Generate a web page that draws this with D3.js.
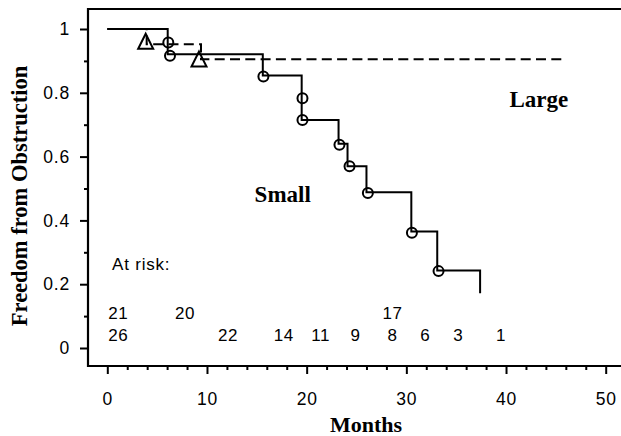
<!DOCTYPE html>
<html>
<head>
<meta charset="utf-8">
<script src="https://cdn.jsdelivr.net/npm/d3@7"></script>
<style>
    body { margin: 0; background: #fff; }
    #km-chart { width: 621px; height: 436px; }
</style>
</head>
<body>
<div id="km-chart"></div>
<script>
// axis ticks
const xTickValues = [0, 10, 20, 30, 40, 50];
const yTickValues = [0, 0.2, 0.4, 0.6, 0.8, 1];

// small group: step curve and event marks
const smallMonths = [0, 6.06, 15.6, 19.5, 23.2, 24.1, 26.0, 30.5, 33.1, 37.4];
const smallSurvival = [1, 0.921, 0.854, 0.715, 0.640, 0.570, 0.488, 0.365, 0.243, 0.172];
const smallMarkMonths = [6.12, 6.29, 15.66, 19.58, 19.58, 23.29, 24.3, 26.14, 30.56, 33.23];
const smallMarkValues = [0.958, 0.916, 0.851, 0.783, 0.715, 0.637, 0.570, 0.486, 0.361, 0.241];

// large group
const largeMonths = [0, 3.95, 9.4, 45.7];
const largeSurvival = [1, 0.952, 0.905, 0.905];
const largeMarkMonths = [3.85, 9.2];
const largeMarkValues = [0.957, 0.901];

// numbers at risk
const riskLargeMonths = [1.1, 7.8, 28.6];
const riskLargeCounts = [21, 20, 17];
const riskSmallMonths = [1.1, 12.1, 17.7, 21.4, 24.9, 28.6, 31.9, 35.2, 39.5];
const riskSmallCounts = [26, 22, 14, 11, 9, 8, 6, 3, 1];

function createKmChart() {
    const width = 621;
    const height = 436;
    const frame = { left: 88, top: 9, bottom: 366 };

    const svg = d3.select("#km-chart")
        .append("svg")
        .attr("width", width)
        .attr("height", height);

    const x = d3.scaleLinear().domain([0, 50]).range([107.3, 605.7]);
    const y = d3.scaleLinear().domain([0, 1]).range([348, 29]);

    const sans = "'Liberation Sans', Arial, sans-serif";
    const serif = "'Liberation Serif', 'Times New Roman', serif";

    // frame (open on the right)
    svg.append("path")
        .attr("d", `M${width},${frame.top}H${frame.left}V${frame.bottom}H${width}`)
        .attr("fill", "none")
        .attr("stroke", "#000")
        .attr("stroke-width", 2.2);

    // x axis, major + minor ticks
    svg.append("g")
        .attr("transform", `translate(0,${frame.bottom})`)
        .call(d3.axisBottom(x).tickValues(xTickValues).tickSize(8).tickPadding(19).tickFormat(d3.format("d")));
    svg.append("g")
        .attr("transform", `translate(0,${frame.bottom})`)
        .call(d3.axisBottom(x).tickValues(d3.range(0, 51, 2).filter(d => d % 10)).tickSize(4).tickFormat(""));

    // y axis
    svg.append("g")
        .attr("transform", `translate(${frame.left},0)`)
        .call(d3.axisLeft(y).tickValues(yTickValues).tickSize(8).tickPadding(10).tickFormat(d => d === 0 || d === 1 ? d : d3.format(".1f")(d)));
    svg.append("g")
        .attr("transform", `translate(${frame.left},0)`)
        .call(d3.axisLeft(y).tickValues([0.1, 0.3, 0.5, 0.7, 0.9]).tickSize(4).tickFormat(""));

    svg.selectAll(".domain").remove();
    svg.selectAll(".tick line").attr("stroke", "#000").attr("stroke-width", 2);
    svg.selectAll(".tick text")
        .attr("fill", "#000")
        .style("font-family", sans)
        .style("font-size", "17.5px")
        .style("letter-spacing", "0.8px");

    // axis titles
    svg.append("text")
        .attr("x", 366)
        .attr("y", 432)
        .attr("text-anchor", "middle")
        .style("font-family", serif)
        .style("font-weight", "bold")
        .style("font-size", "22px")
        .text("Months");

    svg.append("text")
        .attr("transform", "translate(27,196) rotate(-90)")
        .attr("text-anchor", "middle")
        .style("font-family", serif)
        .style("font-weight", "bold")
        .style("font-size", "22.5px")
        .text("Freedom from Obstruction");

    const step = d3.line()
        .x(d => x(d[0]))
        .y(d => y(d[1]))
        .curve(d3.curveStepAfter);

    // large group: dashed
    svg.append("path")
        .datum(largeMonths.map((m, i) => [m, largeSurvival[i]]))
        .attr("fill", "none")
        .attr("stroke", "#000")
        .attr("stroke-width", 2)
        .attr("stroke-dasharray", "10,5.3")
        .attr("d", step);

    // small group: solid
    svg.append("path")
        .datum(smallMonths.map((m, i) => [m, smallSurvival[i]]))
        .attr("fill", "none")
        .attr("stroke", "#000")
        .attr("stroke-width", 2)
        .attr("d", step);

    // circles for small group
    svg.append("g")
        .selectAll("circle")
        .data(smallMarkMonths.map((m, i) => [m, smallMarkValues[i]]))
        .join("circle")
        .attr("cx", d => x(d[0]))
        .attr("cy", d => y(d[1]))
        .attr("r", 5)
        .attr("fill", "none")
        .attr("stroke", "#000")
        .attr("stroke-width", 2);

    // triangles for large group
    svg.append("g")
        .selectAll("path")
        .data(largeMarkMonths.map((m, i) => [m, largeMarkValues[i]]))
        .join("path")
        .attr("transform", d => `translate(${x(d[0])},${y(d[1])})`)
        .attr("d", "M0,-9L7.5,6H-7.5Z")
        .attr("fill", "none")
        .attr("stroke", "#000")
        .attr("stroke-width", 2);

    // group labels
    const groupLabel = (text, m, v) => svg.append("text")
        .attr("x", x(m))
        .attr("y", y(v))
        .attr("text-anchor", "middle")
        .style("font-family", serif)
        .style("font-weight", "bold")
        .style("font-size", "23px")
        .text(text);
    groupLabel("Small", 17.6, 0.459);
    groupLabel("Large", 43.3, 0.756);

    // at-risk table
    svg.append("text")
        .attr("x", 112)
        .attr("y", 270)
        .style("font-family", sans)
        .style("font-size", "17px")
        .style("letter-spacing", "0.8px")
        .text("At risk:");

    const riskRow = (months, counts, baseline) => svg.append("g")
        .selectAll("text")
        .data(months.map((m, i) => [m, counts[i]]))
        .join("text")
        .attr("x", d => x(d[0]))
        .attr("y", baseline)
        .attr("text-anchor", "middle")
        .style("font-family", sans)
        .style("font-size", "17px")
        .style("letter-spacing", "0.5px")
        .text(d => d[1]);
    riskRow(riskLargeMonths, riskLargeCounts, 319);
    riskRow(riskSmallMonths, riskSmallCounts, 341);
}

createKmChart();
</script>
</body>
</html>
